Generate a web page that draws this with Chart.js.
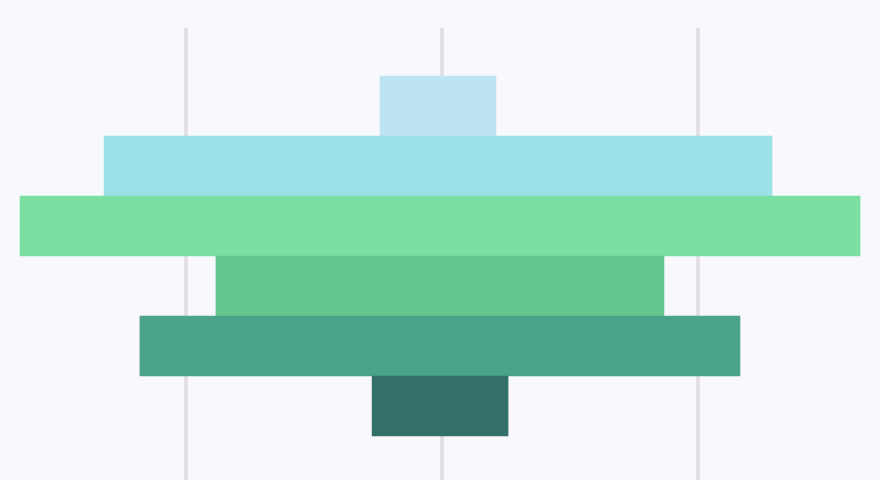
<!DOCTYPE html>
<html>
<head>
<meta charset="utf-8">
<script src="https://cdn.jsdelivr.net/npm/chart.js@4"></script>
<style>
html,body{margin:0;padding:0;background:#f9f8fc;}
#wrap{width:880px;height:480px;position:relative;}
</style>
</head>
<body>
<div id="wrap"><canvas id="c"></canvas></div>
<script>
const categories = ["Stage 1","Stage 2","Stage 3","Stage 4","Stage 5","Stage 6"];
const startValues = [-24.2, -132.0, -164.8, -88.3, -118.0, -27.3];
const endValues = [21.1, 128.9, 163.3, 86.7, 116.4, 25.8];
const barColors = ["#bee3f2","#9ce0e8","#7adfa1","#66c78e","#4ba38a","#34706a"];
const xTicks = [-100, 0, 100];

const points = categories.map((c, i) => ({ x: [startValues[i], endValues[i]], y: i }));

new Chart(document.getElementById('c'), {
  type: 'bar',
  data: {
    labels: categories,
    datasets: [{
      data: points,
      backgroundColor: barColors,
      borderWidth: 0,
      barThickness: 60
    }]
  },
  options: {
    indexAxis: 'y',
    responsive: true,
    maintainAspectRatio: false,
    animation: false,
    layout: { padding: { top: 28, left: 6.8, right: 2.8, bottom: 0 } },
    plugins: { legend: { display: false }, tooltip: { enabled: false } },
    scales: {
      x: {
        type: 'linear',
        min: -170,
        max: 170,
        afterBuildTicks: (axis) => { axis.ticks = xTicks.map(v => ({ value: v })); },
        ticks: { display: false },
        grid: { color: '#e2e0e6', lineWidth: 4, drawTicks: false },
        border: { display: false }
      },
      y: {
        type: 'linear',
        reverse: true,
        offset: false,
        min: -1.3,
        max: 6.2333,
        display: false,
        grid: { offset: false }
      }
    }
  }
});
</script>
</body>
</html>
